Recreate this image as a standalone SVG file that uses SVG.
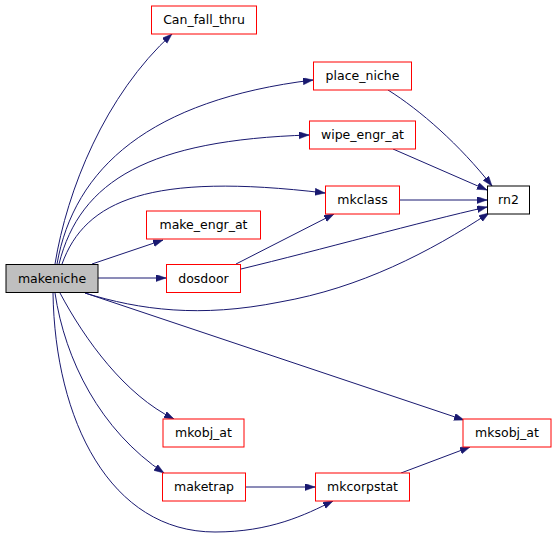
<svg xmlns="http://www.w3.org/2000/svg" width="557" height="538" viewBox="0 0 557 538">
<defs>
<style>
.n text{font-family:"DejaVu Sans",sans-serif;font-size:12.5px;fill:#000000;text-anchor:middle}
.e path{fill:none;stroke:#191970;stroke-width:1}
</style>
<marker id="ah" markerUnits="userSpaceOnUse" markerWidth="11" markerHeight="8" refX="10" refY="3.5" orient="auto">
<path d="M0,0 L10,3.5 L0,7 z" fill="#191970" stroke="#191970" stroke-width="0.5"/>
</marker>
</defs>
<rect width="557" height="538" fill="#ffffff"/>
<g id="edges" class="e">
<path marker-end="url(#ah)" d="M55,264 C67,190 105,95 172,34"/>
<path marker-end="url(#ah)" d="M57,264 C74,168 150,100 313,80"/>
<path marker-end="url(#ah)" d="M59,264 C80,180 150,140 309,135"/>
<path marker-end="url(#ah)" d="M62,264 C85,200 150,172 325,193"/>
<path marker-end="url(#ah)" d="M92,264 L163,240"/>
<path marker-end="url(#ah)" d="M98,278 L166,278"/>
<path marker-end="url(#ah)" d="M85,293 C140,310 200,318 280,302 C360,288 430,252 489,213"/>
<path marker-end="url(#ah)" d="M85,293 L464,420"/>
<path marker-end="url(#ah)" d="M60,293 C85,340 125,395 174,419"/>
<path marker-end="url(#ah)" d="M55,293 C65,360 100,430 164,473"/>
<path marker-end="url(#ah)" d="M53,293 C55,420 110,532 215,532 C270,532 305,515 333,501"/>
<path marker-end="url(#ah)" d="M388,90 C420,110 460,145 492,186"/>
<path marker-end="url(#ah)" d="M393,149 L487,190"/>
<path marker-end="url(#ah)" d="M400,200 L487,200"/>
<path marker-end="url(#ah)" d="M236,264 L334,214"/>
<path marker-end="url(#ah)" d="M241,269 C320,250 420,222 487,207"/>
<path marker-end="url(#ah)" d="M246,487 L315,487"/>
<path marker-end="url(#ah)" d="M401,473 L470,447"/>
</g>
<g id="makeniche" class="n"><rect x="6" y="264.5" width="92" height="28" fill="#bfbfbf" stroke="#000000"/><text x="52" y="282.5">makeniche</text></g>
<g id="Can_fall_thru" class="n"><rect x="151.5" y="6" width="105" height="28" fill="#ffffff" stroke="#ff0000"/><text x="204" y="24">Can_fall_thru</text></g>
<g id="place_niche" class="n"><rect x="313.5" y="62" width="98" height="28" fill="#ffffff" stroke="#ff0000"/><text x="362.5" y="80">place_niche</text></g>
<g id="wipe_engr_at" class="n"><rect x="309.5" y="121" width="106" height="28" fill="#ffffff" stroke="#ff0000"/><text x="362.5" y="139">wipe_engr_at</text></g>
<g id="mkclass" class="n"><rect x="325.5" y="186" width="74" height="28" fill="#ffffff" stroke="#ff0000"/><text x="362.5" y="204">mkclass</text></g>
<g id="rn2" class="n"><rect x="487.5" y="186" width="42" height="28" fill="#ffffff" stroke="#000000"/><text x="508.5" y="204">rn2</text></g>
<g id="make_engr_at" class="n"><rect x="146.5" y="211" width="114" height="28" fill="#ffffff" stroke="#ff0000"/><text x="203.5" y="229">make_engr_at</text></g>
<g id="dosdoor" class="n"><rect x="166.5" y="264.5" width="74" height="28" fill="#ffffff" stroke="#ff0000"/><text x="203.5" y="282.5">dosdoor</text></g>
<g id="mkobj_at" class="n"><rect x="163" y="419" width="81" height="28" fill="#ffffff" stroke="#ff0000"/><text x="203.5" y="437">mkobj_at</text></g>
<g id="maketrap" class="n"><rect x="162.5" y="473" width="83" height="28" fill="#ffffff" stroke="#ff0000"/><text x="204" y="491">maketrap</text></g>
<g id="mksobj_at" class="n"><rect x="463" y="419" width="88" height="28" fill="#ffffff" stroke="#ff0000"/><text x="507" y="437">mksobj_at</text></g>
<g id="mkcorpstat" class="n"><rect x="315.5" y="473" width="94" height="28" fill="#ffffff" stroke="#ff0000"/><text x="362.5" y="491">mkcorpstat</text></g>
</svg>
